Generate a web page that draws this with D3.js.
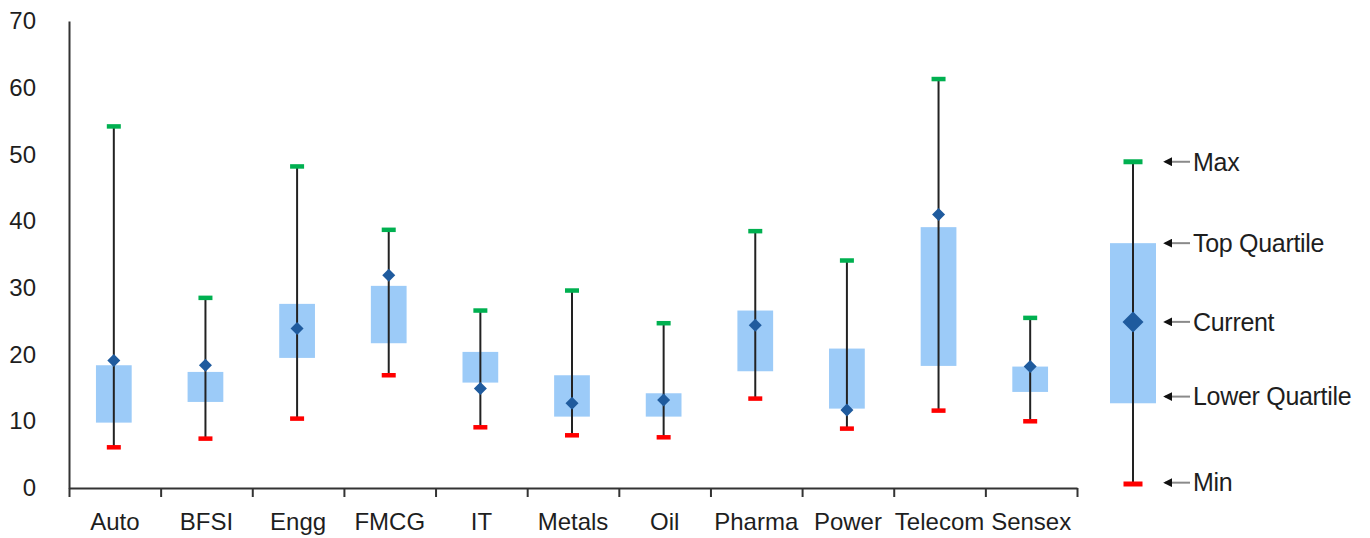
<!DOCTYPE html>
<html>
<head>
<meta charset="utf-8">
<script src="https://cdn.jsdelivr.net/npm/d3@7"></script>
<style>
  body { margin: 0; background: #fff; }
  svg text { font-family: "Liberation Sans", Arial, sans-serif; fill: #1e1e1e; }
</style>
</head>
<body>
<svg id="chart" width="1370" height="538"></svg>
<script>
// sectors and their valuation spread (min / lower quartile / current / top quartile / max)
const sectors = ["Auto", "BFSI", "Engg", "FMCG", "IT", "Metals", "Oil", "Pharma", "Power", "Telecom", "Sensex"];
const minVals     = [6.1, 7.4, 10.4, 16.9, 9.1, 7.9, 7.6, 13.4, 8.9, 11.6, 10.0];
const lowerQuart  = [9.8, 12.9, 19.5, 21.7, 15.8, 10.7, 10.7, 17.5, 11.9, 18.3, 14.4];
const currentVals = [19.1, 18.4, 23.9, 31.9, 14.9, 12.7, 13.2, 24.4, 11.7, 41.0, 18.2];
const topQuart    = [18.4, 17.4, 27.6, 30.3, 20.4, 16.9, 14.2, 26.6, 20.9, 39.1, 18.2];
const maxVals     = [54.2, 28.5, 48.2, 38.7, 26.6, 29.6, 24.7, 38.5, 34.1, 61.3, 25.5];
const yTicks = [0, 10, 20, 30, 40, 50, 60, 70];

// legend sample box
const legendNames  = ["Max", "Top Quartile", "Current", "Lower Quartile", "Min"];
const legendVals   = {min: 0.6, q1: 12.7, cur: 24.9, q3: 36.7, max: 48.9};
const legendLabelAt = [48.9, 36.7, 24.9, 13.7, 0.8];

const boxColor = "#9ccbf8",
    diamondColor = "#1f5b9e",
    maxColor = "#00b050",
    minColor = "#ff0000",
    lineColor = "#222";

const margin = {top: 21, left: 69, bottom: 50},
    plotRight = 1077,
    height = 538;

const svg = d3.select("#chart");

const x = d3.scaleBand()
    .domain(sectors)
    .range([margin.left, plotRight]);

const xEdge = d3.scaleLinear()
    .domain([0, sectors.length])
    .range([margin.left, plotRight]);

const y = d3.scaleLinear()
    .domain([0, 70])
    .range([height - margin.bottom, margin.top]);

// y axis
const yAxis = svg.append("g")
    .attr("class", "y-axis")
    .attr("transform", "translate(" + margin.left + ",0)")
    .call(d3.axisLeft(y).tickValues(yTicks).tickSize(0).tickSizeOuter(0).tickPadding(33));
yAxis.select(".domain").attr("stroke", "#333").attr("stroke-width", 2);
yAxis.selectAll("text").style("font-size", "24px");

// x axis: ticks on band edges, labels at centres
const xTicks = svg.append("g")
    .attr("transform", "translate(0," + y(0) + ")")
    .call(d3.axisBottom(xEdge).tickValues(d3.range(sectors.length + 1)).tickSize(9).tickSizeOuter(0).tickFormat(""));
xTicks.select(".domain").attr("stroke", "#333").attr("stroke-width", 2);
xTicks.selectAll(".tick line").attr("stroke", "#333").attr("stroke-width", 2);

const xAxis = svg.append("g")
    .attr("transform", "translate(0," + y(0) + ")")
    .call(d3.axisBottom(x).tickSize(0).tickPadding(25));
xAxis.select(".domain").remove();
xAxis.selectAll("text").style("font-size", "24px");

const rows = sectors.map(function(s, i) {
    return {name: s, min: minVals[i], q1: lowerQuart[i], cur: currentVals[i], q3: topQuart[i], max: maxVals[i]};
});

const boxW = x.bandwidth() * 0.39,
    capW = 14, capH = 4.5;

function drawBox(g, d, cx, bw, cw, ch, dSize) {
    g.append("rect")
        .attr("x", cx - bw / 2)
        .attr("y", y(d.q3))
        .attr("width", bw)
        .attr("height", y(d.q1) - y(d.q3))
        .attr("fill", boxColor);
    g.append("line")
        .attr("x1", cx).attr("x2", cx)
        .attr("y1", y(d.max)).attr("y2", y(d.min))
        .attr("stroke", lineColor)
        .attr("stroke-width", 2);
    g.append("rect")
        .attr("x", cx - cw / 2)
        .attr("y", y(d.max) - ch / 2)
        .attr("width", cw).attr("height", ch)
        .attr("fill", maxColor);
    g.append("rect")
        .attr("x", cx - cw / 2)
        .attr("y", y(d.min) - ch / 2)
        .attr("width", cw).attr("height", ch)
        .attr("fill", minColor);
    // diamond
    g.append("path")
        .attr("d", "M0," + (-dSize) + "L" + dSize + ",0L0," + dSize + "L" + (-dSize) + ",0Z")
        .attr("transform", "translate(" + cx + "," + y(d.cur) + ")")
        .attr("fill", diamondColor);
}

svg.selectAll("g.box")
    .data(rows)
    .enter()
    .append("g")
    .attr("class", "box")
    .each(function(d) {
        drawBox(d3.select(this), d, x(d.name) + x.bandwidth() / 2 - 1, boxW, capW, capH, 6.5);
    });

// legend
const legX = 1133;
const leg = svg.append("g").attr("class", "legend");
drawBox(leg, legendVals, legX, 46, 19, 5, 10.5);

svg.append("defs").append("marker")
    .attr("id", "arrow")
    .attr("viewBox", "0 0 10 10")
    .attr("refX", 2).attr("refY", 5)
    .attr("markerWidth", 4.5).attr("markerHeight", 4.5)
    .attr("orient", "auto")
    .append("path")
    .attr("d", "M0,5 L10,0 L10,10 Z")
    .attr("fill", "#111");

const labels = leg.selectAll("g.leg-label")
    .data(legendNames)
    .enter()
    .append("g")
    .attr("class", "leg-label")
    .attr("transform", function(d, i) { return "translate(0," + y(legendLabelAt[i]) + ")"; });

labels.append("line")
    .attr("x1", 1165).attr("x2", 1190)
    .attr("y1", 0).attr("y2", 0)
    .attr("stroke", "#8a8a8a")
    .attr("stroke-width", 2)
    .attr("marker-start", "url(#arrow)");

labels.append("text")
    .attr("x", 1193)
    .attr("dy", "0.35em")
    .style("font-size", "25px")
    .style("letter-spacing", "-0.3px")
    .text(function(d) { return d; });
</script>
</body>
</html>
